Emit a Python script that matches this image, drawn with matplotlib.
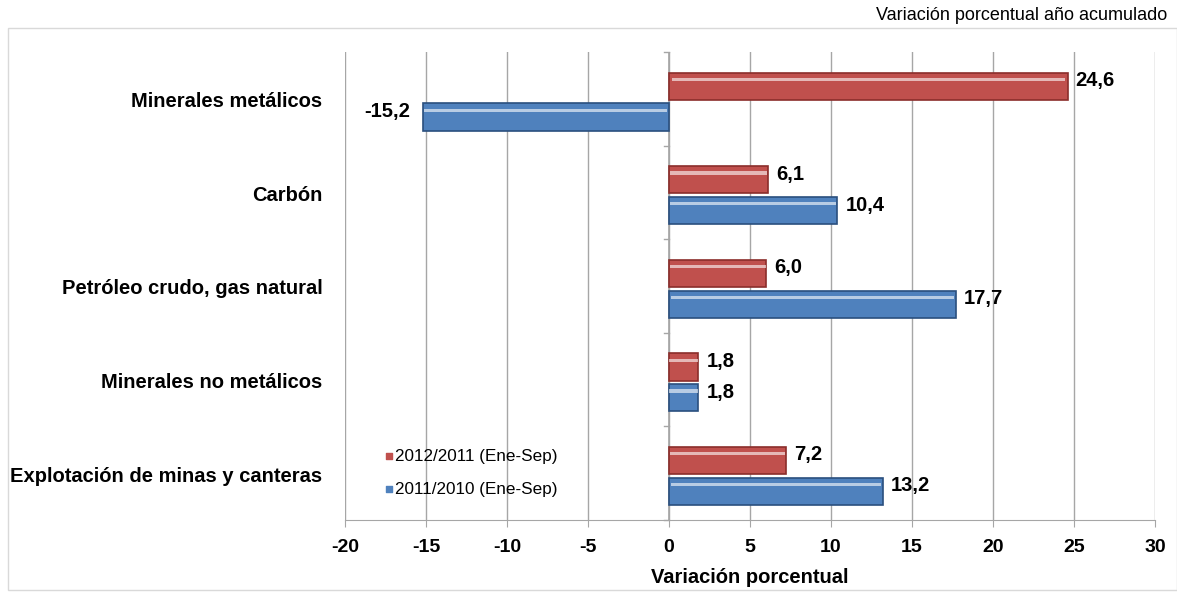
import numpy as np
import matplotlib
matplotlib.use('Agg')
import matplotlib.pyplot as plt
from matplotlib.patches import Rectangle

plt.rcParams['font.family'] = ['Liberation Sans', 'DejaVu Sans']

# data (top to bottom as in the picture)
categorias = ['Minerales metálicos', 'Carbón', 'Petróleo crudo, gas natural',
              'Minerales no metálicos', 'Explotación de minas y canteras']
v_2012 = [24.6, 6.1, 6.0, 1.8, 7.2]
v_2011 = [-15.2, 10.4, 17.7, 1.8, 13.2]
series = ['2012/2011 (Ene-Sep)', '2011/2010 (Ene-Sep)']
ticks = [-20, -15, -10, -5, 0, 5, 10, 15, 20, 25, 30]

rojo = '#C0504D'
azul = '#4F81BD'

fig = plt.figure(figsize=(11.77, 5.94), dpi=100)
fig.patches.append(Rectangle((8 / 1177, 4 / 594), 1 - 8 / 1177, 1 - 32 / 594,
                             transform=fig.transFigure, fill=False,
                             edgecolor='#d9d9d9', lw=1))
ax = fig.add_axes([345 / 1177, 1 - 520 / 594, 810 / 1177, 468 / 594])

y = np.arange(len(categorias))[::-1].astype(float)
h = 0.29
off = 0.165


def barra(yc, val, col, dark):
    ax.barh(yc, val, height=h, color=col, edgecolor=dark, lw=1.2, zorder=3)
    # brillo superior
    ax.barh(yc + h * 0.25, val * 0.985, height=h * 0.12,
            left=val * 0.008, color='white', alpha=0.6, lw=0, zorder=4)


for i in range(len(categorias)):
    barra(y[i] + off - 0.03, v_2012[i], rojo, '#8B2E2B')
    barra(y[i] - off - 0.03, v_2011[i], azul, '#2A4F7E')
    for val, yy in ((v_2012[i], y[i] + off), (v_2011[i], y[i] - off)):
        txt = ('%.1f' % val).replace('.', ',')
        if val >= 0:
            ax.text(val + 0.5, yy + 0.03, txt, ha='left', va='center',
                    fontsize=14.5, fontweight='bold', zorder=5)
        else:
            ax.text(val - 0.8, yy + 0.03, txt, ha='right', va='center',
                    fontsize=14.5, fontweight='bold', zorder=5)

ax.set_xlim(-20, 30)
ax.set_ylim(-0.5, len(categorias) - 0.5)
ax.set_xticks(ticks)
ax.set_xticklabels([str(t) for t in ticks], fontsize=14, fontweight='bold')
ax.grid(axis='x', color='#a6a6a6', lw=1, zorder=0)
ax.set_yticks([])
for s in ['top', 'right', 'left']:
    ax.spines[s].set_visible(False)
ax.spines['bottom'].set_color('#a6a6a6')
ax.tick_params(axis='x', length=5, color='#a6a6a6', pad=9)
ax.axvline(0, color='#a6a6a6', lw=1.2, zorder=2)
for b in np.arange(len(categorias) + 1) - 0.5:
    ax.plot([0, -0.3], [b, b], color='#a6a6a6', lw=1, zorder=2, clip_on=False)

for i, c in enumerate(categorias):
    ax.text(-21.4, y[i] - 0.03, c, ha='right', va='center', fontsize=14.5,
            fontweight='bold')

ax.set_xlabel('Variación porcentual', fontsize=14.5, fontweight='bold', labelpad=8)

# leyenda
for k, (lab, col) in enumerate(zip(series, [rojo, azul])):
    yy = 0.18 - k * 0.35
    ax.scatter([-17.3], [yy], marker='s', s=22, color=col, zorder=5)
    ax.text(-16.9, yy, lab, ha='left', va='center', fontsize=12.3, zorder=5)

fig.text(1167 / 1177, 1 - 16 / 594, 'Variación porcentual año acumulado',
         ha='right', va='center', fontsize=13)

fig.savefig('out.png', dpi=100)
